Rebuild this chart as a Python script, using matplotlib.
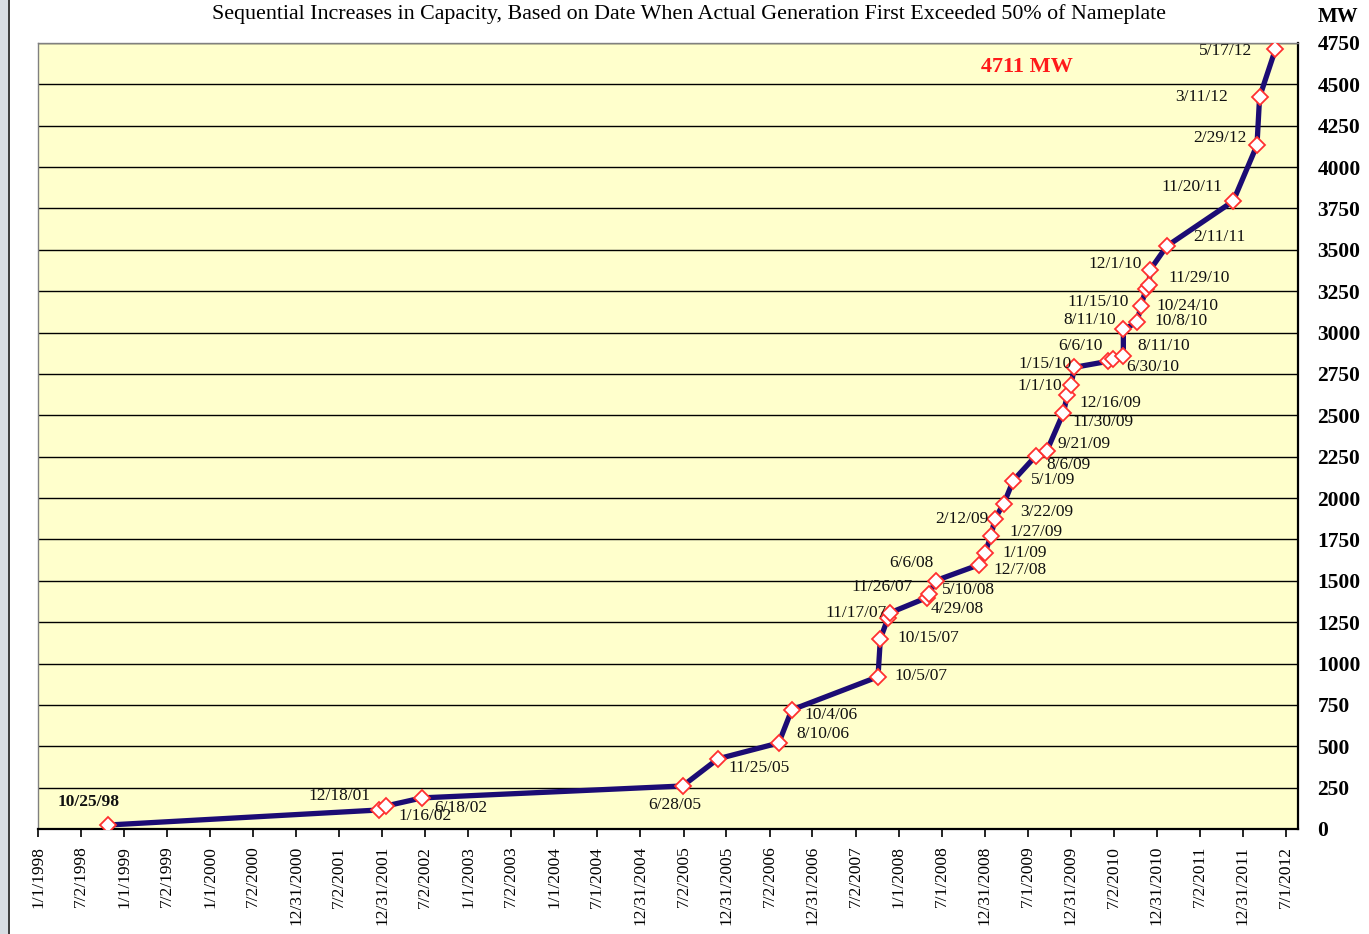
import numpy as np
import pandas as pd
import matplotlib
matplotlib.use("Agg")
import matplotlib.pyplot as plt
from matplotlib.patches import Rectangle

# capacity steps: date when generation first exceeded 50% of nameplate, cumulative MW
dates = ["10/25/98", "12/18/01", "1/16/02", "6/18/02", "6/28/05", "11/25/05",
         "8/10/06", "10/4/06", "10/5/07", "10/15/07", "11/17/07", "11/26/07",
         "4/29/08", "5/10/08", "6/6/08", "12/7/08", "1/1/09", "1/27/09",
         "2/12/09", "3/22/09", "5/1/09", "8/6/09", "9/21/09", "11/30/09",
         "12/16/09", "1/1/10", "1/15/10", "6/6/10", "6/30/10", "8/11/10",
         "8/11/10", "10/8/10", "10/24/10", "11/15/10", "11/29/10", "12/1/10",
         "2/11/11", "11/20/11", "2/29/12", "3/11/12", "5/17/12"]
mw = [24, 115, 139, 188, 260, 424,
      520, 720, 920, 1150, 1277, 1307,
      1398, 1422, 1501, 1597, 1670, 1773,
      1876, 1967, 2106, 2257, 2287, 2517,
      2620, 2681, 2790, 2826, 2838, 2856,
      3019, 3062, 3159, 3262, 3286, 3376,
      3522, 3794, 4133, 4423, 4711]

xtick_labels = ["1/1/1998", "7/2/1998", "1/1/1999", "7/2/1999", "1/1/2000",
                "7/2/2000", "12/31/2000", "7/2/2001", "12/31/2001", "7/2/2002",
                "1/1/2003", "7/2/2003", "1/1/2004", "7/1/2004", "12/31/2004",
                "7/2/2005", "12/31/2005", "7/2/2006", "12/31/2006", "7/2/2007",
                "1/1/2008", "7/1/2008", "12/31/2008", "7/1/2009", "12/31/2009",
                "7/2/2010", "12/31/2010", "7/2/2011", "12/31/2011", "7/1/2012"]
yticks = list(range(0, 4751, 250))

# label offsets in pixels (dx, dy) from each marker
offsets = [(-19, 23), (-40, 14), (39, -10), (39, -10), (-8, -19), (41, -9),
           (44, 9), (39, -5), (43, 1), (48, 1), (-32, 5), (-8, 26),
           (30, -11), (39, 4), (-24, 18), (41, -5), (40, 0), (45, 4),
           (-33, 0), (43, -8), (40, 1), (32, -9), (37, 7), (40, -9),
           (43, -8), (-31, -1), (-29, 3), (-27, 15), (39, -8), (40, 10),
           (-34, 9), (44, 1), (47, 0), (-48, -13), (50, 7), (-35, 6),
           (53, 9), (-41, 14), (-37, 7), (-58, 0), (-50, -2)]

x = pd.to_datetime(dates, format="%m/%d/%y")
xt = pd.to_datetime(xtick_labels, format="%m/%d/%Y")

plt.rcParams["font.family"] = "Liberation Serif"

fig = plt.figure(figsize=(13.69, 9.34), dpi=100)
ax = fig.add_axes([38/1369, 105/934, 1260/1369, 786/934])
ax.set_facecolor("#ffffcc")

ax.plot(x, mw, "-", color="#1c0c74", lw=3.8, zorder=3)
ax.plot(x, mw, "D", ms=7.8, mfc="white", mec="#ff3030", mew=1.3, zorder=4)

for i, (d, v, lab) in enumerate(zip(x, mw, dates)):
    dx, dy = offsets[i]
    ax.annotate(lab, (d, v), xytext=(dx, dy), textcoords="offset pixels",
                ha="center", va="center", fontsize=12.5,
                fontweight="bold" if i == 0 else "normal", color="#111111",
                zorder=5)

ax.set_xlim(pd.Timestamp("1998-01-01"), pd.Timestamp("2012-08-21"))
ax.set_ylim(0, 4750)
ax.set_xticks(xt)
ax.set_xticklabels(xtick_labels, rotation=90, fontsize=12.5)
ax.tick_params(axis="x", direction="out", length=6, width=1.2, pad=6)

ax.yaxis.tick_right()
ax.set_yticks(yticks)
ax.set_yticklabels([str(t) for t in yticks], fontsize=15.5, fontweight="bold",
                   ha="left")
ax.tick_params(axis="y", length=0, pad=14)
ax.grid(axis="y", color="black", lw=1.0)
ax.set_axisbelow(True)

for s in ["top", "left"]:
    ax.spines[s].set_color("#808080")
    ax.spines[s].set_linewidth(1.0)
for s in ["bottom", "right"]:
    ax.spines[s].set_color("black")
    ax.spines[s].set_linewidth(1.6)

ax.text(0.785, 0.9695, "4711 MW", transform=ax.transAxes,
        color="#ff1a1a", fontsize=16, fontweight="bold", ha="center", va="center")

fig.text(689/1369, 1 - 14/934, "Sequential Increases in Capacity, Based on Date "
         "When Actual Generation First Exceeded 50% of Nameplate",
         ha="center", va="center", fontsize=15.8)
fig.text(1338/1369, 1 - 17/934, "MW", ha="center", va="center", fontsize=15,
         fontweight="bold")

# window edge on the left
fig.patches.append(Rectangle((0, 0), 8/1369, 1, transform=fig.transFigure,
                             facecolor="#d8dde3", edgecolor="none"))
fig.patches.append(Rectangle((8/1369, 0), 2/1369, 1, transform=fig.transFigure,
                             facecolor="#404040", edgecolor="none"))

fig.savefig("out.png", dpi=100)
